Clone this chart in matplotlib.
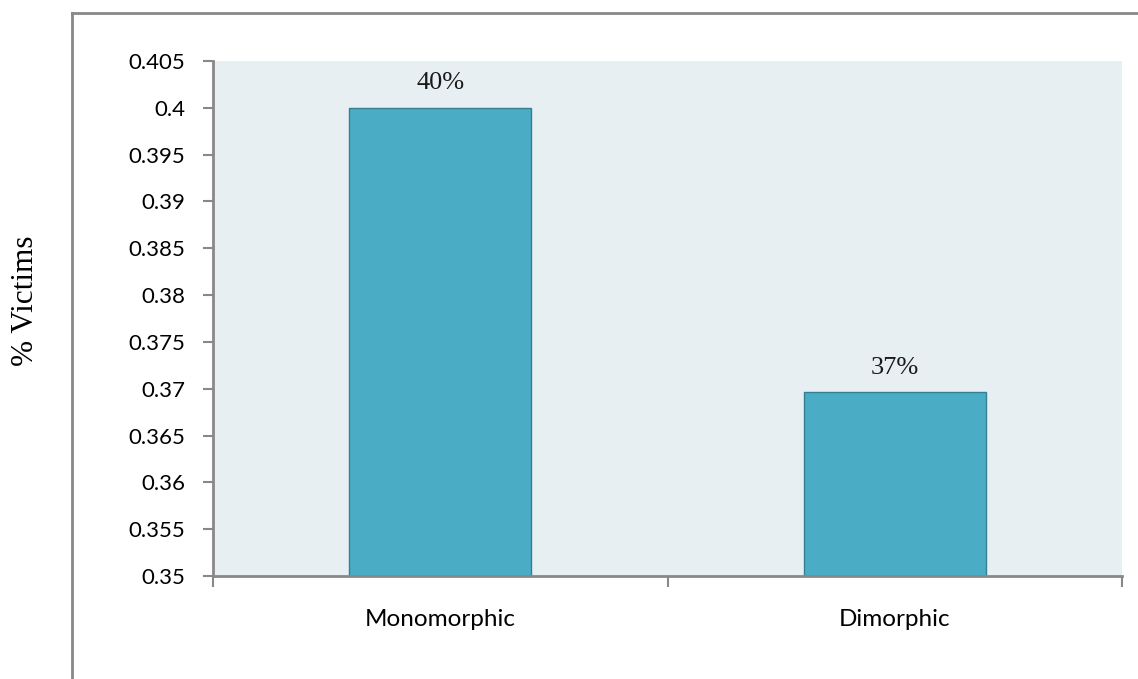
import numpy as np
import matplotlib
matplotlib.use("Agg")
import matplotlib.pyplot as plt
from matplotlib.lines import Line2D
from matplotlib.ticker import FixedLocator

categories = ["Monomorphic", "Dimorphic"]
victims = [0.400, 0.3696]
bar_labels = ["40%", "37%"]
yticks = [0.35, 0.355, 0.36, 0.365, 0.37, 0.375, 0.38, 0.385, 0.39, 0.395, 0.4, 0.405]
ytick_labels = ["0.35", "0.355", "0.36", "0.365", "0.37", "0.375", "0.38",
                "0.385", "0.39", "0.395", "0.4", "0.405"]

GRAY = "#888888"
fig = plt.figure(figsize=(11.38, 6.79), dpi=100)
ax = fig.add_axes([213 / 1138, 1 - 576 / 679, 909 / 1138, 515 / 679])
ax.set_facecolor("#E8EFF2")

x = np.arange(len(categories))
ax.bar(x, victims, width=0.4, color="#4BACC6", edgecolor="#357F95", linewidth=1.0, zorder=2)
for xi, v, lbl in zip(x, victims, bar_labels):
    ax.text(xi, v + 0.0026, lbl, ha="center", va="center",
            family="Liberation Serif", fontsize=19, color="#1a1a1a")

ax.set_xlim(-0.5, 1.5)
ax.set_ylim(0.35, 0.405)
ax.set_yticks(yticks)
ax.set_yticklabels(ytick_labels, family="Lato", fontsize=16)
ax.set_xticks(x)
ax.set_xticklabels(categories, family="Lato", fontsize=17.5)
ax.xaxis.set_minor_locator(FixedLocator([-0.5, 0.5, 1.5]))
ax.tick_params(axis="x", which="major", length=0, pad=24)
ax.tick_params(axis="x", which="minor", length=8, width=1.5, color=GRAY)
ax.tick_params(axis="y", length=7, width=1.5, color=GRAY, pad=13)
for s in ["top", "right"]:
    ax.spines[s].set_visible(False)
for s in ["left", "bottom"]:
    ax.spines[s].set_color(GRAY)
    ax.spines[s].set_linewidth(2)

ax.set_ylabel("% Victims", family="Liberation Serif", fontsize=22.5)
ax.yaxis.set_label_coords(40 / 1138, 1 - 301 / 679, transform=fig.transFigure)

# outer chart frame (only left and top visible)
fig.add_artist(Line2D([72 / 1138, 72 / 1138], [0, 1 - 13 / 679], color=GRAY, lw=2,
                      transform=fig.transFigure))
fig.add_artist(Line2D([72 / 1138, 1], [1 - 13 / 679, 1 - 13 / 679], color=GRAY, lw=2,
                      transform=fig.transFigure))

fig.savefig("out.png", dpi=100)
